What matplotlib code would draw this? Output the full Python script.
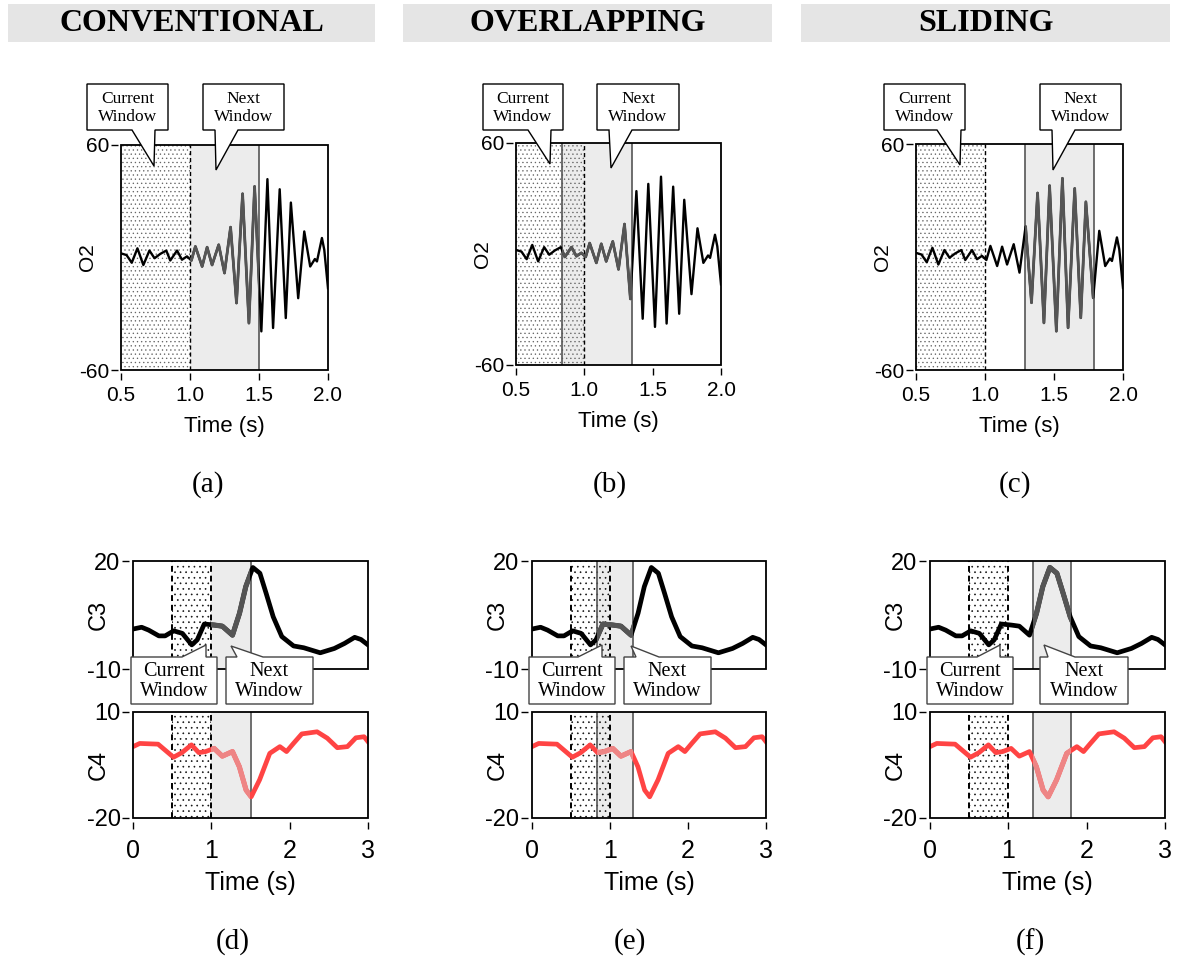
import matplotlib
matplotlib.use('Agg')
import matplotlib.pyplot as plt
from matplotlib.patches import Rectangle, Polygon

W, H = 1181, 958
plt.rcParams['axes.unicode_minus'] = False
plt.rcParams['font.family'] = ['Liberation Sans', 'DejaVu Sans']
plt.rcParams['hatch.linewidth'] = 0.45

# ---- data ----
titles = ['CONVENTIONAL', 'OVERLAPPING', 'SLIDING']
tags_top = ['(a)', '(b)', '(c)']
tags_bot = ['(d)', '(e)', '(f)']

# O2 trace (top row), seconds / uV
o2_t = [0.5, 0.54, 0.578, 0.619, 0.662, 0.706, 0.743, 0.784, 0.828, 0.857,
        0.906, 0.942, 0.978, 1.01, 1.039, 1.088, 1.124, 1.16, 1.208, 1.25,
        1.294, 1.337, 1.381, 1.427, 1.468, 1.517, 1.561, 1.602, 1.65, 1.694,
        1.731, 1.784, 1.828, 1.871, 1.905, 1.92, 1.956, 1.973, 2.0]
o2_v = [2.2, 1.3, -2.8, 4.9, -4.0, 3.7, -0.4, 1.9, 3.7, -1.6,
        3.7, -1.2, 0.6, -1.6, 5.9, -4.8, 5.5, -4.0, 6.8, -8.3,
        16.2, -24.3, 34.0, -35.0, 37.9, -39.4, 41.8, -37.6, 36.4, -32.3,
        29.3, -21.7, 13.9, -4.8, -0.8, -2.1, 10.4, 4.1, -16.4]

# C3 trace (bottom row, upper panel)
c3_t = [0, 0.11, 0.2, 0.33, 0.41, 0.52, 0.63, 0.75, 0.82, 0.91, 1.04, 1.14,
        1.27, 1.36, 1.44, 1.53, 1.62, 1.70, 1.79, 1.90, 2.05, 2.18, 2.39,
        2.57, 2.70, 2.83, 2.91, 3.0]
c3_v = [1.1, 1.6, 0.8, -0.8, -0.8, 0.6, -0.1, -3.3, -1.9, 2.5, 2.2, 1.9,
        -0.6, 5.5, 12.9, 18.2, 16.6, 11.0, 4.5, -1.0, -3.6, -4.1, -5.5,
        -4.3, -2.9, -1.2, -1.8, -3.3]

# C4 trace (bottom row, lower panel)
c4_t = [0, 0.086, 0.32, 0.517, 0.625, 0.746, 0.84, 0.927, 1.035, 1.14, 1.27,
        1.358, 1.444, 1.509, 1.616, 1.746, 1.875, 1.96, 2.048, 2.155, 2.35,
        2.48, 2.608, 2.737, 2.845, 2.95, 3.0]
c4_v = [0.2, 1.1, 0.9, -2.8, -1.5, 0.7, -1.5, -1.2, -0.3, -2.5, -1.2,
        -5.5, -12.1, -14.0, -9.2, -1.7, 0.2, -1.2, 1.1, 3.8, 4.4,
        2.6, -0.1, 0.2, 2.7, 3.0, 1.6]

# windows (start, end) in seconds
cur_top = [(0.5, 1.0), (0.5, 1.0), (0.5, 1.0)]
next_top = [(1.0, 1.5), (0.84, 1.35), (1.29, 1.79)]
cur_bot = [(0.5, 1.0), (0.5, 1.0), (0.5, 1.0)]
next_bot = [(1.0, 1.5), (0.83, 1.3), (1.32, 1.8)]

fig = plt.figure(figsize=(W / 100, H / 100), dpi=100)


def px_axes(l, t, r, b):
    return fig.add_axes([l / W, 1 - b / H, (r - l) / W, (b - t) / H])


def style(ax, xfs, yfs, gap, xpad):
    for s in ax.spines.values():
        s.set_visible(False)
    ax.spines['left'].set_position(('outward', gap))
    ax.spines['bottom'].set_position(('outward', gap))
    ax.add_patch(Rectangle((0, 0), 1, 1, transform=ax.transAxes, fill=False,
                           lw=1.3, ec='black', zorder=6, clip_on=False))
    ax.tick_params(axis='x', direction='out', length=5, width=1, labelsize=xfs, pad=xpad)
    ax.tick_params(axis='y', direction='out', length=5, width=1, labelsize=yfs, pad=1)


def windows(ax, cur, nxt, ylim, hatch, dot_col, dash_lw, left_dash):
    h = ylim[1] - ylim[0]
    nrect = Rectangle((nxt[0], ylim[0]), nxt[1] - nxt[0], h, fc='#ececec',
                      ec='none', zorder=1)
    ax.add_patch(nrect)
    ax.add_patch(Rectangle((cur[0], ylim[0]), cur[1] - cur[0], h, fc='none',
                           ec=dot_col, lw=0, hatch=hatch, zorder=2))
    if abs(nxt[0] - cur[1]) > 0.01:
        ax.axvline(nxt[0], color='#555555', lw=1.2, zorder=3)
    ax.axvline(nxt[1], color='#555555', lw=1.2, zorder=3)
    ax.axvline(cur[1], color='black', lw=dash_lw, ls=(0, (3, 2)), zorder=3)
    if left_dash:
        ax.axvline(cur[0], color='black', lw=dash_lw, ls=(0, (3, 2)), zorder=3)
    return nrect


def trace(ax, t, v, clip, col, hcol, lw):
    ax.plot(t, v, color=col, lw=lw, zorder=4, solid_joinstyle='round')
    ln, = ax.plot(t, v, color=hcol, lw=lw + 0.3, zorder=4.5, solid_joinstyle='round')
    ln.set_clip_path(clip)


top_boxes = [(121, 145, 328, 370), (516, 143, 721, 365), (916, 144, 1123, 370)]
bot_x = [(133, 368), (532, 766), (930, 1165)]

for i in range(3):
    # top row: O2
    l, t, r, b = top_boxes[i]
    ax = px_axes(l, t, r, b)
    style(ax, 15, 15, 2.5, 4)
    ax.set_xlim(0.5, 2.0)
    ax.set_ylim(-60, 60)
    clip = windows(ax, cur_top[i], next_top[i], (-60, 60), '....', '#666666', 1.0, False)
    trace(ax, o2_t, o2_v, clip, 'black', '#555555', 1.7)
    ax.set_xticks([0.5, 1.0, 1.5, 2.0])
    ax.set_xticklabels(['0.5', '1.0', '1.5', '2.0'])
    ax.set_yticks([-60, 60])
    ax.set_xlabel('Time (s)', fontsize=16, labelpad=8)
    ax.set_ylabel('O2', fontsize=15)
    ax.yaxis.set_label_coords(-0.115, 0.5)

    # bottom row: C3 and C4
    l, r = bot_x[i]
    ax3 = px_axes(l, 561, r, 669)
    style(ax3, 18, 17, 3, 6)
    ax3.set_xlim(0, 3)
    ax3.set_ylim(-10, 20)
    clip = windows(ax3, cur_bot[i], next_bot[i], (-10, 20), '...', '#111111', 1.4, True)
    trace(ax3, c3_t, c3_v, clip, 'black', '#555555', 3.4)
    ax3.set_xticks([])
    ax3.set_yticks([-10, 20])
    ax3.set_ylabel('C3', fontsize=17)
    ax3.yaxis.set_label_coords(-0.1, 0.5)

    ax4 = px_axes(l, 712, r, 818)
    style(ax4, 18, 17, 3, 7)
    ax4.set_xlim(0, 3)
    ax4.set_ylim(-20, 10)
    clip = windows(ax4, cur_bot[i], next_bot[i], (-20, 10), '...', '#111111', 1.4, True)
    trace(ax4, c4_t, c4_v, clip, '#ff4444', '#ee8585', 3.4)
    ax4.set_xticks([0, 1, 2, 3])
    ax4.set_yticks([-20, 10])
    ax4.set_xlabel('Time (s)', fontsize=18, labelpad=6)
    ax4.set_ylabel('C4', fontsize=17)
    ax4.yaxis.set_label_coords(-0.1, 0.5)

# overlay for banners, callouts and panel tags (pixel coordinates)
ov = fig.add_axes([0, 0, 1, 1], zorder=10)
ov.set_xlim(0, W)
ov.set_ylim(H, 0)
ov.set_axis_off()

banners = [(8, 375), (403, 772), (801, 1170)]
for (x0, x1), title in zip(banners, titles):
    ov.add_patch(Rectangle((x0, 4), x1 - x0, 38, fc='#e5e5e5', ec='none'))
    ov.text((x0 + x1) / 2, 23, title, ha='center', va='center',
            family='Liberation Serif', weight='bold', fontsize=23)

for x, tag in zip([208, 610, 1015], tags_top):
    ov.text(x, 485, tag, ha='center', va='center', family='Liberation Serif', fontsize=21)
for x, tag in zip([233, 630, 1030], tags_bot):
    ov.text(x, 942, tag, ha='center', va='center', family='Liberation Serif', fontsize=21)


def callout(box, base, tip, text, up, fs, ec):
    L, T, R, B = box
    if up:
        pts = [(L, T), (base[0], T), tip, (base[1], T), (R, T), (R, B), (L, B)]
    else:
        pts = [(L, T), (R, T), (R, B), (base[1], B), tip, (base[0], B), (L, B)]
    ov.add_patch(Polygon(pts, closed=True, fc='white', ec=ec, lw=1.0))
    ov.text((L + R) / 2, (T + B) / 2 + 1, text, ha='center', va='center',
            family='Liberation Serif', fontsize=fs, linespacing=1.1)


top_calls = [
    ((87, 84, 168, 130), (132, 155), (154, 166), 'Current\nWindow'),
    ((203, 84, 284, 130), (215, 238), (216, 170), 'Next\nWindow'),
    ((483, 84, 563, 130), (528, 551), (550, 164), 'Current\nWindow'),
    ((597, 84, 679, 130), (609, 632), (611, 168), 'Next\nWindow'),
    ((884, 84, 965, 130), (937, 961), (960, 165), 'Current\nWindow'),
    ((1040, 84, 1121, 130), (1052, 1075), (1053, 170), 'Next\nWindow'),
]
for box, base, tip, txt in top_calls:
    callout(box, base, tip, txt, False, 12.5, 'black')

bot_calls = [
    ((131, 657, 217, 704), (182, 206), (206, 645), 'Current\nWindow'),
    ((226, 657, 313, 704), (237, 263), (231, 646), 'Next\nWindow'),
    ((529, 657, 615, 704), (578, 602), (602, 645), 'Current\nWindow'),
    ((624, 657, 711, 704), (636, 659), (631, 646), 'Next\nWindow'),
    ((927, 657, 1013, 704), (977, 1000), (1000, 645), 'Current\nWindow'),
    ((1040, 657, 1128, 704), (1048, 1075), (1044, 645), 'Next\nWindow'),
]
for box, base, tip, txt in bot_calls:
    callout(box, base, tip, txt, True, 14.5, '#444444')

fig.savefig('out.png', dpi=100)
